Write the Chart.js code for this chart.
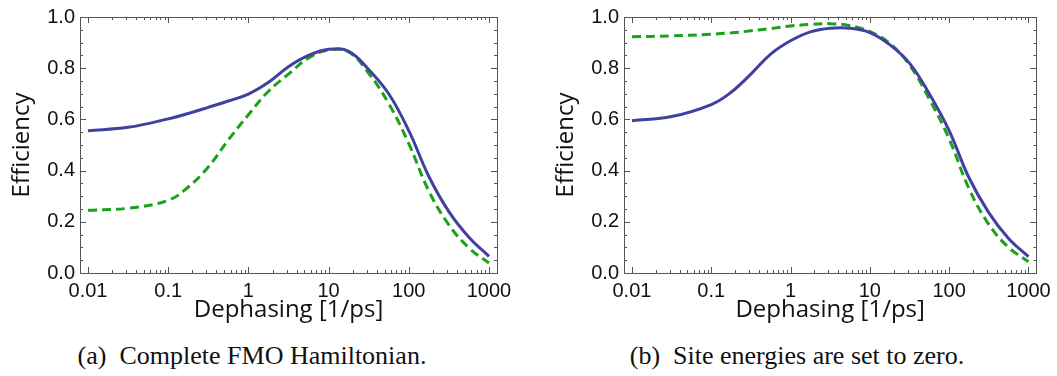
<!DOCTYPE html>
<html>
<head>
<meta charset="utf-8">
<script src="https://cdn.jsdelivr.net/npm/chart.js@4/dist/chart.umd.min.js"></script>
<style>
  body { margin: 0; background: #fff; width: 1057px; height: 376px; overflow: hidden; position: relative; }
  .panel { position: absolute; top: 0; height: 330px; }
  .caption { position: absolute; top: 343px; line-height: 26px; font-family: "Liberation Serif", "Times New Roman", serif; font-size: 26px; color: #111; white-space: nowrap; transform: translateX(-50%); }
</style>
</head>
<body>
<div class="panel" style="left:0;width:528px"><canvas id="chartA"></canvas></div>
<div class="panel" style="left:544px;width:513px"><canvas id="chartB"></canvas></div>
<div class="caption" style="left:252px">(a)&nbsp; Complete FMO Hamiltonian.</div>
<div class="caption" style="left:797px">(b)&nbsp; Site energies are set to zero.</div>
<script>
// dephasing rates [1/ps], quarter-decade steps
var dephasing = [0.01, 0.0316, 0.1, 0.178, 0.316, 0.562, 1, 1.78, 3.16, 5.62, 10, 17.8, 31.6, 56.2, 100, 178, 316, 562, 1000];

// (a) complete FMO Hamiltonian
var fullA = [0.556, 0.569, 0.602, 0.623, 0.647, 0.672, 0.699, 0.745, 0.806, 0.850, 0.874, 0.866, 0.795, 0.700, 0.556, 0.377, 0.240, 0.140, 0.065];
var dashA = [0.245, 0.253, 0.284, 0.336, 0.414, 0.520, 0.618, 0.710, 0.777, 0.840, 0.871, 0.863, 0.780, 0.662, 0.505, 0.320, 0.188, 0.098, 0.039];

// (b) site energies set to zero
var fullB = [0.595, 0.611, 0.658, 0.706, 0.777, 0.855, 0.907, 0.942, 0.956, 0.956, 0.939, 0.892, 0.820, 0.700, 0.556, 0.372, 0.236, 0.135, 0.064];
var dashB = [0.923, 0.926, 0.933, 0.938, 0.946, 0.955, 0.965, 0.971, 0.974, 0.966, 0.943, 0.897, 0.813, 0.680, 0.524, 0.330, 0.190, 0.100, 0.044];

var xTicks = [0.01, 0.1, 1, 10, 100, 1000];
var yTicks = [0, 0.2, 0.4, 0.6, 0.8, 1.0];

function pts(xs, ys) {
  return xs.map(function (x, i) { return { x: x, y: ys[i] }; });
}

// frame with inward ticks on all four sides
var framePlugin = {
  id: 'frame',
  afterDatasetsDraw: function (chart) {
    var ctx = chart.ctx, a = chart.chartArea;
    var xs = chart.scales.x, ys = chart.scales.y;
    ctx.save();
    ctx.strokeStyle = '#555';
    ctx.lineWidth = 1;
    ctx.beginPath();
    for (var d = -2; d <= 3; d++) {
      for (var m = 1; m <= 9; m++) {
        var v = m * Math.pow(10, d);
        if (v > 1000) break;
        var px = Math.round(xs.getPixelForValue(v)) + 0.5;
        var len = m == 1 ? 6 : 3;
        ctx.moveTo(px, a.bottom); ctx.lineTo(px, a.bottom - len);
        ctx.moveTo(px, a.top); ctx.lineTo(px, a.top + len);
      }
    }
    for (var k = 0; k <= 20; k++) {
      var py = Math.round(ys.getPixelForValue(k * 0.05)) + 0.5;
      var l = k % 4 == 0 ? 6 : 3;
      ctx.moveTo(a.left, py); ctx.lineTo(a.left + l, py);
      ctx.moveTo(a.right, py); ctx.lineTo(a.right - l, py);
    }
    ctx.stroke();
    ctx.strokeRect(Math.round(a.left) + 0.5, Math.round(a.top) + 0.5, Math.round(a.right - a.left), Math.round(a.bottom - a.top));
    ctx.restore();
  }
};

function makeChart(id, solid, dashed, padRight) {
  var tickFont = { family: 'Liberation Sans, Arial, sans-serif', size: 20 };
  var titleFont = { family: 'Open Sans, Noto Sans, sans-serif', size: 24 };
  return new Chart(document.getElementById(id).getContext('2d'), {
    type: 'line',
    data: {
      datasets: [{
        data: solid,
        borderColor: '#4040a0',
        borderWidth: 3,
        pointRadius: 0,
        fill: false,
        tension: 0.4
      }, {
        data: dashed,
        borderColor: '#1aa31a',
        borderWidth: 3,
        borderDash: [9, 5],
        pointRadius: 0,
        fill: false,
        tension: 0.4
      }]
    },
    options: {
      responsive: true,
      maintainAspectRatio: false,
      animation: false,
      layout: { padding: { left: 0, top: 16, right: padRight, bottom: 0 } },
      plugins: { legend: { display: false }, tooltip: { enabled: false } },
      scales: {
        x: {
          type: 'logarithmic',
          min: Math.pow(10, -2.1),
          max: Math.pow(10, 3.1),
          afterBuildTicks: function (s) { s.ticks = xTicks.map(function (v) { return { value: v }; }); },
          afterFit: function (s) { s.height = 57; },
          grid: { display: false, drawTicks: false },
          border: { display: false },
          ticks: {
            color: '#111', font: tickFont, padding: 6, maxRotation: 0, autoSkip: false,
            callback: function (v) { return String(v); }
          },
          title: { display: true, text: 'Dephasing [1/ps]', color: '#111', font: titleFont, padding: { top: 0, bottom: 5 } }
        },
        y: {
          min: 0,
          max: 1,
          afterBuildTicks: function (s) { s.ticks = yTicks.map(function (v) { return { value: v }; }); },
          afterFit: function (s) { s.width = 80; },
          grid: { display: false, drawTicks: false },
          border: { display: false },
          ticks: {
            color: '#111', font: tickFont, padding: 5,
            callback: function (v) { return v.toFixed(1); }
          },
          title: { display: true, text: 'Efficiency', color: '#111', font: titleFont, padding: { top: 8, bottom: 0 } }
        }
      }
    },
    plugins: [framePlugin]
  });
}

makeChart('chartA', pts(dephasing, fullA), pts(dephasing, dashA), 31);
makeChart('chartB', pts(dephasing, fullB), pts(dephasing, dashB), 17);
</script>
</body>
</html>
